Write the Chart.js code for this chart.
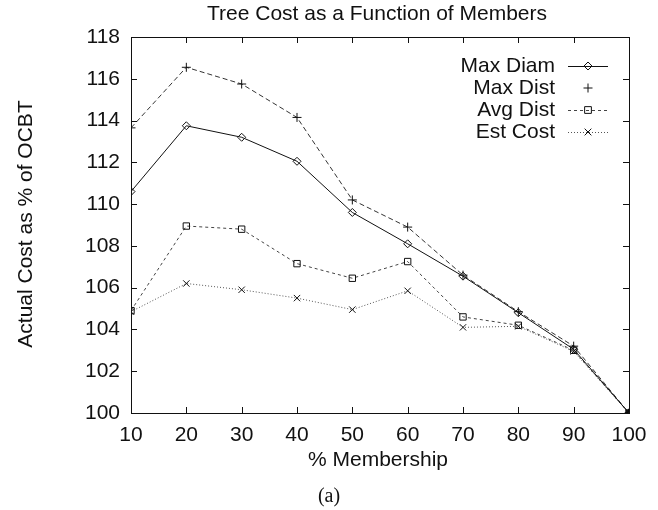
<!DOCTYPE html>
<html>
<head>
<meta charset="utf-8">
<script src="https://cdn.jsdelivr.net/npm/chart.js@4/dist/chart.umd.min.js"></script>
<style>
  html, body { margin: 0; padding: 0; background: #fff; }
  #wrap { width: 658px; height: 510px; position: relative; }
</style>
</head>
<body>
<div id="wrap"><canvas id="c"></canvas></div>
<script>
// % of group members
const members = [10, 20, 30, 40, 50, 60, 70, 80, 90, 100];

// Tree cost relative to OCBT (%)
const maxDiam = [110.6, 113.75, 113.2, 112.05, 109.6, 108.1, 106.55, 104.8, 103.05, 100];
const maxDist = [113.65, 116.55, 115.75, 114.15, 110.2, 108.9, 106.6, 104.85, 103.2, 100];
const avgDist = [104.9, 108.95, 108.8, 107.15, 106.45, 107.25, 104.6, 104.2, 103.0, 100];
const estCost = [104.85, 106.2, 105.9, 105.5, 104.95, 105.85, 104.1, 104.15, 102.95, 100];

const seriesNames = ['Max Diam', 'Max Dist', 'Avg Dist', 'Est Cost'];
const xTicks = [10, 20, 30, 40, 50, 60, 70, 80, 90, 100];
const yTicks = [100, 102, 104, 106, 108, 110, 112, 114, 116, 118];

const chartTitle = 'Tree Cost as a Function of Members';
const xTitle = '% Membership';
const yTitle = 'Actual Cost as % of OCBT';
const caption = '(a)';

const SANS = '"Liberation Sans", Arial, Helvetica, sans-serif';
const SERIF = '"Liberation Serif", "Times New Roman", serif';

function pts(ys) { return members.map((x, i) => ({ x: x, y: ys[i] })); }

const styles = [
  { color: '#111', dash: [], point: 'rectRot', radius: 4, legendLine: true },
  { color: '#333', dash: [5, 3], point: 'cross', radius: 4.5, legendLine: false },
  { color: '#444', dash: [3, 3], point: 'rect', radius: 4.5, legendLine: true },
  { color: '#555', dash: [1, 2], point: 'crossRot', radius: 4.5, legendLine: true }
];

const seriesData = [maxDiam, maxDist, avgDist, estCost];

const datasets = seriesData.map((ys, i) => ({
  label: seriesNames[i],
  data: pts(ys),
  borderColor: styles[i].color,
  borderWidth: 1,
  borderDash: styles[i].dash,
  pointStyle: styles[i].point,
  pointRadius: styles[i].radius,
  pointBorderColor: '#111',
  // markers stacked at the 100% end read as one solid square
  pointBackgroundColor: members.map(m => (i === 2 && m === 100) ? '#000' : 'rgba(255,255,255,0)'),
  pointBorderWidth: 1,
  tension: 0,
  fill: false
}));

function marker(ctx, style, x, y, r) {
  ctx.save();
  ctx.setLineDash([]);
  ctx.strokeStyle = '#111';
  ctx.lineWidth = 1;
  ctx.beginPath();
  if (style === 'rectRot') {
    ctx.moveTo(x, y - r); ctx.lineTo(x + r, y); ctx.lineTo(x, y + r); ctx.lineTo(x - r, y); ctx.closePath();
  } else if (style === 'cross') {
    ctx.moveTo(x - r, y); ctx.lineTo(x + r, y); ctx.moveTo(x, y - r); ctx.lineTo(x, y + r);
  } else if (style === 'rect') {
    const s = r * 0.75;
    ctx.rect(x - s, y - s, 2 * s, 2 * s);
  } else if (style === 'crossRot') {
    const s = r * 0.75;
    ctx.moveTo(x - s, y - s); ctx.lineTo(x + s, y + s); ctx.moveTo(x + s, y - s); ctx.lineTo(x - s, y + s);
  }
  ctx.stroke();
  ctx.restore();
}

// Frame with inward tick marks, titles, caption and key
const decorations = {
  id: 'decorations',
  afterDatasetsDraw(chart) {
    const { ctx, chartArea: a, scales } = chart;
    const xs = scales.x, ys = scales.y;
    ctx.save();
    ctx.strokeStyle = '#111';
    ctx.lineWidth = 1;
    ctx.setLineDash([]);
    ctx.strokeRect(Math.round(a.left) + 0.5, Math.round(a.top) + 0.5,
                   Math.round(a.right - a.left), Math.round(a.bottom - a.top));
    const tl = 6;
    ctx.beginPath();
    xTicks.forEach(v => {
      const px = Math.round(xs.getPixelForValue(v)) + 0.5;
      ctx.moveTo(px, a.bottom); ctx.lineTo(px, a.bottom - tl);
      ctx.moveTo(px, a.top); ctx.lineTo(px, a.top + tl);
    });
    yTicks.forEach(v => {
      const py = Math.round(ys.getPixelForValue(v)) + 0.5;
      ctx.moveTo(a.left, py); ctx.lineTo(a.left + tl, py);
      ctx.moveTo(a.right, py); ctx.lineTo(a.right - tl, py);
    });
    ctx.stroke();

    const midX = (a.left + a.right) / 2;
    ctx.fillStyle = '#111';
    ctx.textBaseline = 'middle';
    ctx.textAlign = 'center';
    ctx.font = '21px ' + SANS;
    ctx.fillText(chartTitle, midX - 3, 14);

    ctx.fillText(xTitle, midX - 2, 460);

    ctx.save();
    ctx.translate(26, 224);
    ctx.rotate(-Math.PI / 2);
    ctx.fillText(yTitle, 0, 0);
    ctx.restore();

    ctx.font = '20px ' + SERIF;
    ctx.fillText(caption, 329, 497);

    // key
    ctx.font = '21px ' + SANS;
    ctx.textAlign = 'right';
    chart.data.datasets.forEach((ds, i) => {
      const y = 66 + i * 22;
      ctx.fillStyle = '#111';
      ctx.fillText(ds.label, 555, y);
      if (styles[i].legendLine) {
        ctx.save();
        ctx.strokeStyle = ds.borderColor;
        ctx.lineWidth = 1;
        ctx.setLineDash(ds.borderDash);
        ctx.beginPath();
        ctx.moveTo(568, y + 0.5); ctx.lineTo(608, y + 0.5);
        ctx.stroke();
        ctx.restore();
      }
      marker(ctx, ds.pointStyle, 588, y, ds.pointRadius);
    });
    ctx.restore();
  }
};

new Chart(document.getElementById('c'), {
  type: 'line',
  data: { datasets: datasets },
  options: {
    responsive: true,
    maintainAspectRatio: false,
    animation: false,
    layout: { padding: { left: 0, top: 37, right: 29, bottom: 0 } },
    plugins: { legend: { display: false }, title: { display: false }, tooltip: { enabled: false } },
    scales: {
      x: {
        type: 'linear',
        min: 10, max: 100,
        afterFit(s) { s.height = 97; },
        afterBuildTicks(s) { s.ticks = xTicks.map(v => ({ value: v })); },
        grid: { display: false, drawTicks: false },
        border: { display: false },
        ticks: { color: '#111', padding: 10, font: { family: SANS, size: 21 }, maxRotation: 0, autoSkip: false }
      },
      y: {
        type: 'linear',
        min: 100, max: 118,
        afterFit(s) { s.width = 131; },
        afterBuildTicks(s) { s.ticks = yTicks.map(v => ({ value: v })); },
        grid: { display: false, drawTicks: false },
        border: { display: false },
        ticks: { color: '#111', padding: 11, font: { family: SANS, size: 21 } }
      }
    }
  },
  plugins: [decorations]
});
</script>
</body>
</html>
